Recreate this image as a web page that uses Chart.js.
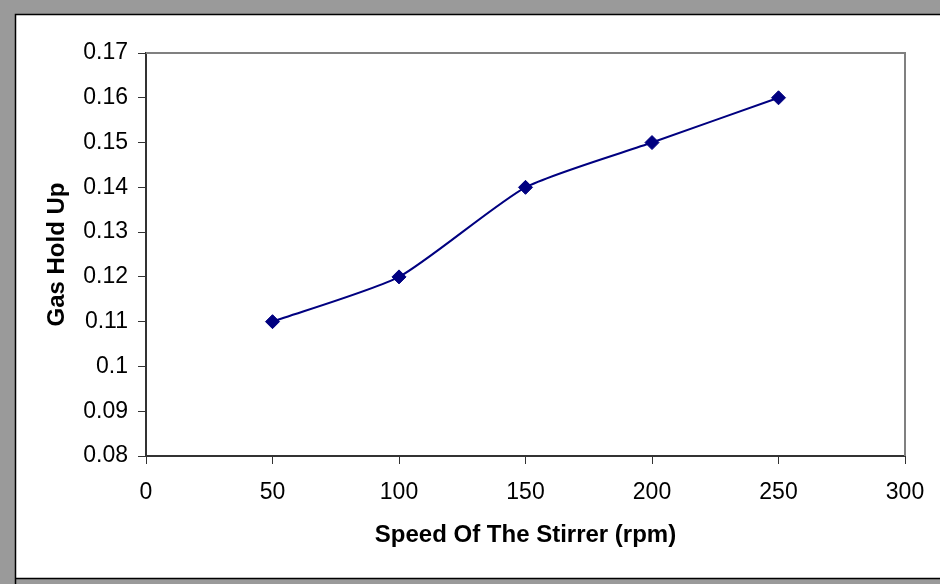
<!DOCTYPE html>
<html>
<head>
<meta charset="utf-8">
<script src="https://cdn.jsdelivr.net/npm/chart.js@4"></script>
<style>
  html, body { margin: 0; padding: 0; background: #fff; }
  #wrap { width: 940px; height: 584px; }
</style>
</head>
<body>
<div id="wrap"><canvas id="holdUpChart" width="940" height="584"></canvas></div>
<script>
// Данные графика
const speeds = [50, 100, 150, 200, 250];
const holdUp = [0.11, 0.12, 0.14, 0.15, 0.16];
const xTitle = 'Speed Of The Stirrer (rpm)';
const yTitle = 'Gas Hold Up';

// Рамка вокруг всей картинки и рамка области построения
const framePlugin = {
    id: 'frame',
    beforeDraw(chart) {
        const ctx = chart.ctx;
        ctx.save();
        ctx.fillStyle = '#fff';
        ctx.fillRect(0, 0, chart.width, chart.height);
        ctx.fillStyle = '#9a9a9a';
        ctx.fillRect(0, 0, chart.width, 14);
        ctx.fillRect(0, 0, 15, chart.height);
        ctx.fillRect(0, 579, chart.width, chart.height - 579);
        ctx.strokeStyle = '#000';
        ctx.lineWidth = 1.5;
        ctx.beginPath();
        ctx.moveTo(15.5, chart.height);
        ctx.lineTo(15.5, 14.5);
        ctx.lineTo(chart.width, 14.5);
        ctx.moveTo(15.5, 578.5);
        ctx.lineTo(chart.width, 578.5);
        ctx.stroke();
        ctx.restore();
    },
    beforeDatasetsDraw(chart) {
        const a = chart.chartArea;
        const ctx = chart.ctx;
        ctx.save();
        ctx.strokeStyle = '#808080';
        ctx.lineWidth = 2;
        ctx.beginPath();
        ctx.moveTo(a.left, a.top);
        ctx.lineTo(a.right, a.top);
        ctx.lineTo(a.right, a.bottom);
        ctx.stroke();
        ctx.restore();
    }
};

const ctx = document.getElementById('holdUpChart').getContext('2d');
new Chart(ctx, {
    type: 'scatter',
    data: {
        datasets: [{
            data: speeds.map((s, i) => ({ x: s, y: holdUp[i] })),
            showLine: true,
            borderColor: '#000080',
            borderWidth: 2,
            tension: 0.2,
            pointStyle: 'rectRot',
            pointRadius: 7,
            pointBackgroundColor: '#000080',
            pointBorderColor: '#000080',
            pointBorderWidth: 1
        }]
    },
    options: {
        responsive: false,
        devicePixelRatio: 1,
        animation: false,
        layout: {
            padding: { left: 16, right: 35, top: 53, bottom: 6 }
        },
        plugins: {
            legend: { display: false },
            tooltip: { enabled: false }
        },
        scales: {
            x: {
                type: 'linear',
                min: 0,
                max: 300,
                afterFit: scale => { scale.height = 122; },
                border: { color: '#333', width: 2 },
                grid: { drawOnChartArea: false, tickLength: 8, color: '#333', tickWidth: 1 },
                ticks: {
                    stepSize: 50,
                    padding: 15,
                    color: '#000',
                    font: { family: 'Liberation Sans, Arial', size: 23 }
                },
                title: {
                    display: true,
                    text: xTitle,
                    color: '#000',
                    padding: { top: 0, bottom: 28 },
                    font: { family: 'Liberation Sans, Arial', size: 24, weight: 'bold' }
                }
            },
            y: {
                min: 0.08,
                max: 0.17,
                afterFit: scale => { scale.width = 130; },
                border: { color: '#333', width: 2 },
                grid: { drawOnChartArea: false, tickLength: 8, color: '#333', tickWidth: 1 },
                ticks: {
                    stepSize: 0.01,
                    padding: 10,
                    color: '#000',
                    font: { family: 'Liberation Sans, Arial', size: 23 },
                    callback: v => parseFloat(v.toFixed(2)).toString()
                },
                title: {
                    display: true,
                    text: yTitle,
                    color: '#000',
                    padding: { top: 27, bottom: 0 },
                    font: { family: 'Liberation Sans, Arial', size: 24, weight: 'bold' }
                }
            }
        }
    },
    plugins: [framePlugin]
});
</script>
</body>
</html>
